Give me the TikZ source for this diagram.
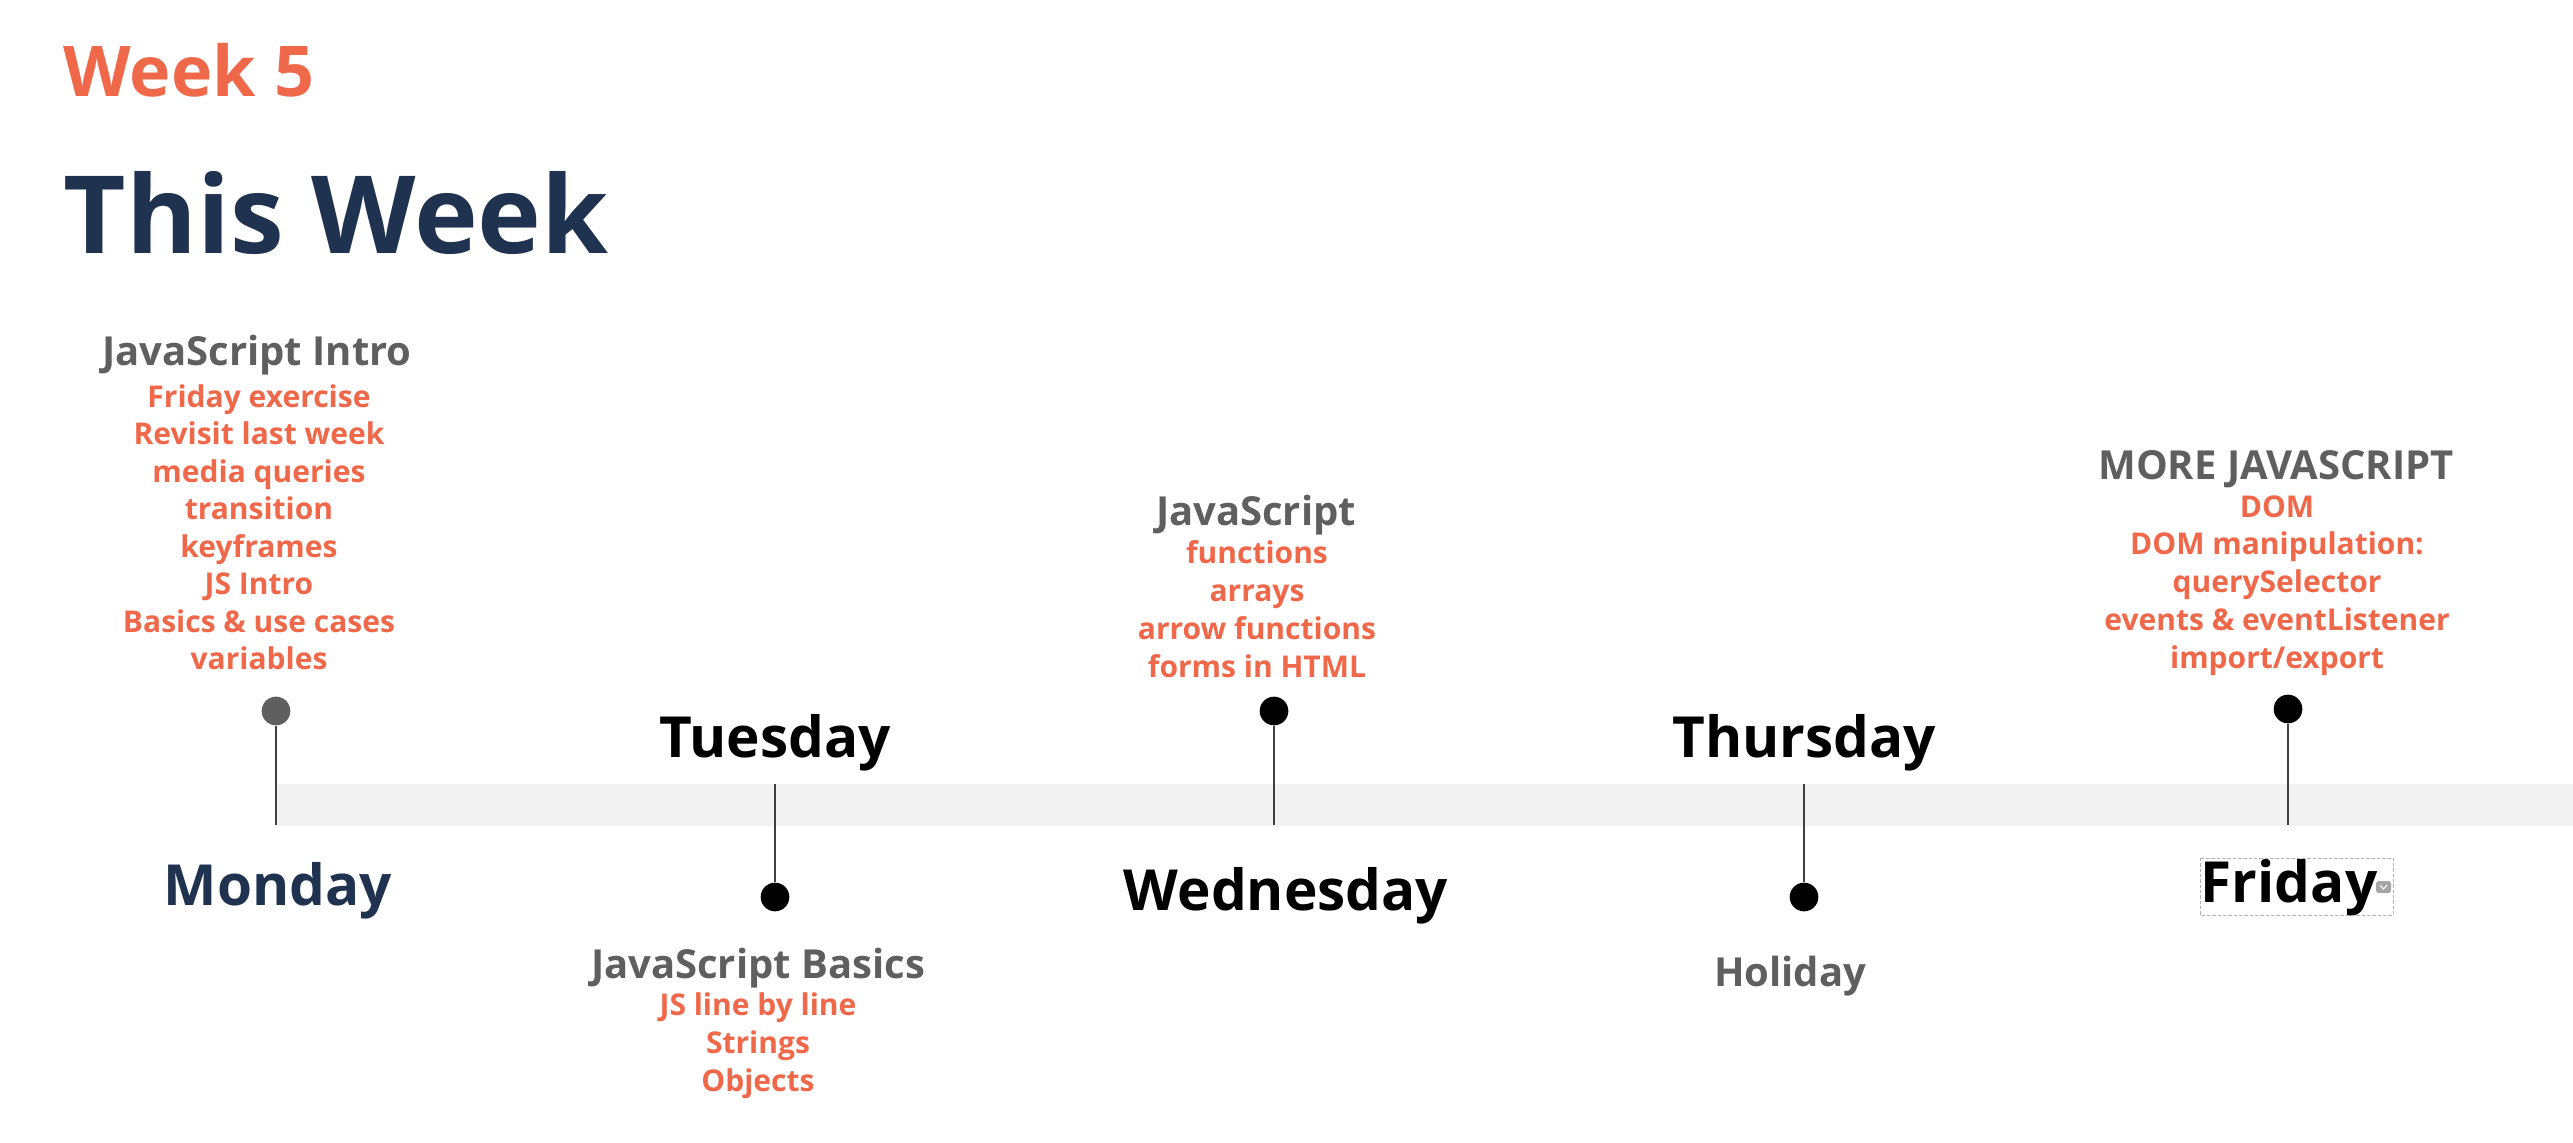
\documentclass[tikz,border=0pt]{standalone}
\usepackage{fontspec}
\setmainfont{Open Sans}
\usetikzlibrary{positioning}
\definecolor{coral}{HTML}{F0684A}
\definecolor{navy}{HTML}{1F3350}
\definecolor{slate}{HTML}{5F5F5F}
\definecolor{band}{HTML}{F2F2F2}
\newcommand{\weekfont}{\fontsize{21}{26}\selectfont\bfseries}
\newcommand{\titlefont}{\fontsize{32.4}{38}\selectfont\bfseries}
\newcommand{\topfont}{\fontsize{12}{14}\selectfont\bfseries}
\newcommand{\itmfont}{\fontsize{9}{11.3}\selectfont\bfseries}
\newcommand{\dayfont}{\fontsize{17}{21}\selectfont\bfseries}
\tikzset{topic/.style={anchor=base,inner sep=0pt,text=slate,font=\topfont},itm/.style={anchor=base,inner sep=0pt,text=coral,font=\itmfont},day/.style={anchor=base,inner sep=0pt,font=\dayfont},pin/.style={circle,fill=black,inner sep=0pt,minimum size=8.6pt},stem/.style={draw=black!75,line width=0.5pt}}

\begin{document}
\begin{tikzpicture}[x=0.3pt,y=-0.3pt]
\useasboundingbox (0,0) rectangle (2573,1143);
% heading
\node[anchor=base west,inner sep=0pt,text=coral,font=\weekfont] (week) at (63,97) {Week 5};
\node[anchor=base west,inner sep=0pt,text=navy,font=\titlefont] (title) at (63,254) {This Week};
% band
\fill[band] (276,784) rectangle (2573,826);
% Monday
\node[pin,fill=slate] (mon-dot) at (276,711) {};
\coordinate (mon-end) at (276,825);
\draw[stem] (mon-dot) -- (mon-end);
\node[topic] (mon-top) at (257,366) {JavaScript Intro};
\foreach \t [count=\i from 0] in {Friday exercise,Revisit last week,media queries,transition,keyframes,JS Intro,Basics \& use cases,variables}
  \node[itm] (mon-\i) at (259,407+37.5*\i) {\t};
\node[day,text=navy] (mon) at (278,905) {Monday};
% Tuesday
\node[day] (tue) at (775,757) {Tuesday};
\coordinate (tue-start) at (775,784);
\node[pin] (tue-dot) at (775,897) {};
\draw[stem] (tue-start) -- (tue-dot);
\node[topic] (tue-top) at (758,978) {JavaScript Basics};
\foreach \t [count=\i from 0] in {JS line by line,Strings,Objects}
  \node[itm] (tue-\i) at (758,1015+38*\i) {\t};
% Wednesday
\node[pin] (wed-dot) at (1274,711) {};
\coordinate (wed-end) at (1274,825);
\draw[stem] (wed-dot) -- (wed-end);
\node[topic] (wed-top) at (1256,525) {JavaScript};
\foreach \t [count=\i from 0] in {functions,arrays,arrow functions,forms in HTML}
  \node[itm] (wed-\i) at (1257,563+38*\i) {\t};
\node[day] (wed) at (1286,910) {Wednesday};
% Thursday
\node[day] (thu) at (1804,757) {Thursday};
\coordinate (thu-start) at (1804,784);
\node[pin] (thu-dot) at (1804,897) {};
\draw[stem] (thu-start) -- (thu-dot);
\node[topic] (thu-top) at (1790,986) {Holiday};
% Friday
\node[pin] (fri-dot) at (2288,709) {};
\coordinate (fri-end) at (2288,825);
\draw[stem] (fri-dot) -- (fri-end);
\node[topic] (fri-top) at (2276,479) {MORE JAVASCRIPT};
\foreach \t [count=\i from 0] in {DOM,DOM manipulation:,querySelector,events \& eventListener,import/export}
  \node[itm] (fri-\i) at (2277,517+37.8*\i) {\t};
\node[day] (fri) at (2289,902) {Friday};
\draw[draw=black!30,line width=0.3pt,dash pattern=on 1pt off 0.6pt] (2200,858) rectangle (2393,915);
\fill[black!35,rounded corners=0.8pt] (2376,881) rectangle (2391,893);
\draw[white,line width=0.3pt] (2380,885) -- (2383.5,889) -- (2387,885);
\end{tikzpicture}
\end{document}
